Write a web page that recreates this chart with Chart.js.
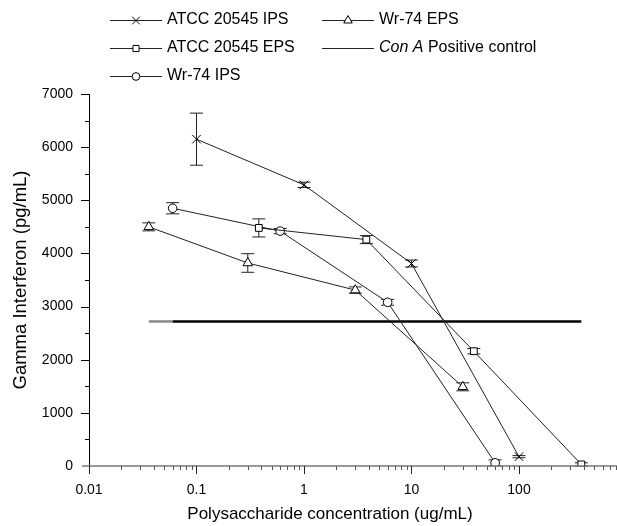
<!DOCTYPE html>
<html><head><meta charset="utf-8">
<script src="https://cdn.jsdelivr.net/npm/chart.js@4.4.0/dist/chart.umd.min.js"></script>
<style>html,body{margin:0;padding:0;background:#fff}#wrap{width:617px;height:526px;position:relative}</style>
</head><body><div id="wrap"><canvas id="c" width="617" height="526"></canvas></div>
<script>
// ---- data ----
const atccIpsX = [0.1, 1, 10, 100];
const atccIpsY = [6150, 5290, 3810, 175];
const atccIpsErr = [490, 50, 65, 20];
const atccEpsX = [0.38, 3.8, 38, 380];
const atccEpsY = [4480, 4260, 2160, 30];
const atccEpsErr = [170, 75, 50, 30];
const wrIpsX = [0.06, 0.6, 6, 60];
const wrIpsY = [4850, 4420, 3080, 60];
const wrIpsErr = [105, 50, 55, 55];
const wrEpsX = [0.036, 0.3, 3, 30];
const wrEpsY = [4500, 3820, 3310, 1490];
const wrEpsErr = [75, 175, 60, 75];
const controlX = [0.036, 0.06, 380];
const controlY = [2720, 2720, 2720];
const xTickLabels = ['0.01', '0.1', '1', '10', '100'];
const yTickLabels = ['0', '1000', '2000', '3000', '4000', '5000', '6000', '7000'];
const seriesNames = ['ATCC 20545 IPS', 'ATCC 20545 EPS', 'Wr-74 IPS', 'Wr-74 EPS'];

const FONT = '"Liberation Sans", Arial, Helvetica, sans-serif';
Chart.defaults.font.family = FONT;
Chart.defaults.color = '#000';

function pts(xs, ys) { return xs.map((x, i) => ({x: x, y: ys[i]})); }

const errs = [atccIpsErr, atccEpsErr, wrIpsErr, wrEpsErr];

function mkSeries(name, xs, ys, style, r) {
  return {
    label: name, data: pts(xs, ys), borderColor: '#222', borderWidth: 1,
    pointStyle: style, pointRadius: r, pointHoverRadius: r,
    pointBackgroundColor: '#fff', pointBorderColor: '#000', pointBorderWidth: 1,
    tension: 0, fill: false
  };
}

const datasets = [
  mkSeries(seriesNames[0], atccIpsX, atccIpsY, 'crossRot', 6),
  mkSeries(seriesNames[1], atccEpsX, atccEpsY, 'rect', 4.8),
  mkSeries(seriesNames[2], wrIpsX, wrIpsY, 'circle', 4.3),
  mkSeries(seriesNames[3], wrEpsX, wrEpsY, 'triangle', 5.5),
  {
    label: 'Con A Positive control', data: pts(controlX, controlY),
    borderColor: '#000', borderWidth: 2.5, pointRadius: 0, tension: 0, fill: false,
    segment: { borderColor: c => c.p0DataIndex === 0 ? '#888' : '#000' }
  }
];

const errorBars = {
  id: 'errorBars',
  beforeDatasetsDraw(chart) {
    const ctx = chart.ctx, xs = chart.scales.x, ys = chart.scales.y;
    ctx.save();
    ctx.strokeStyle = '#222'; ctx.lineWidth = 1;
    for (let d = 0; d < 4; d++) {
      chart.data.datasets[d].data.forEach((p, i) => {
        const e = errs[d][i];
        const px = xs.getPixelForValue(p.x);
        const top = ys.getPixelForValue(p.y + e), bot = ys.getPixelForValue(p.y - e);
        ctx.beginPath();
        ctx.moveTo(px, top); ctx.lineTo(px, bot);
        ctx.moveTo(px - 6.5, top); ctx.lineTo(px + 6.5, top);
        ctx.moveTo(px - 6.5, bot); ctx.lineTo(px + 6.5, bot);
        ctx.stroke();
      });
    }
    ctx.restore();
  }
};

// stretch the plot area to the right edge of the canvas, as in the reference
const stretchRight = {
  id: 'stretchRight',
  afterLayout(chart) {
    const a = chart.chartArea, xs = chart.scales.x;
    const R = chart.width;
    a.right = R; a.width = R - a.left;
    xs.right = R; xs.width = R - xs.left;
    xs.configure();
    xs._labelItems = null; xs._gridLineItems = null;
  }
};

const axisDecor = {
  id: 'axisDecor',
  afterDraw(chart) {
    const ctx = chart.ctx, xs = chart.scales.x, ys = chart.scales.y, a = chart.chartArea;
    ctx.save();
    ctx.strokeStyle = '#777'; ctx.lineWidth = 1.5;
    ctx.beginPath(); ctx.moveTo(a.left - 7, a.bottom); ctx.lineTo(a.right, a.bottom); ctx.stroke();
    ctx.lineWidth = 1;
    xs.ticks.forEach(t => {
      const px = Math.round(xs.getPixelForValue(t.value)) + 0.5;
      const lg = Math.log10(t.value);
      const major = Math.abs(lg - Math.round(lg)) < 1e-9;
      ctx.strokeStyle = major ? '#222' : '#555';
      ctx.beginPath(); ctx.moveTo(px, a.bottom); ctx.lineTo(px, a.bottom + (major ? 8 : 4)); ctx.stroke();
    });
    ctx.strokeStyle = '#000';
    ys.ticks.forEach(t => {
      if (t.value === 0) return;
      const py = Math.round(ys.getPixelForValue(t.value)) + 0.5;
      const major = t.value % 1000 === 0;
      ctx.beginPath(); ctx.moveTo(a.left - (major ? 8 : 4), py); ctx.lineTo(a.left, py); ctx.stroke();
    });
    ctx.fillStyle = '#000';
    ctx.font = '17px ' + FONT;
    ctx.textAlign = 'center'; ctx.textBaseline = 'middle';
    ctx.fillText('Polysaccharide concentration (ug/mL)', 330, 514);
    ctx.restore();
  }
};

const legendPlugin = {
  id: 'customLegend',
  afterDraw(chart) {
    const ctx = chart.ctx;
    const ds = chart.data.datasets;
    const entries = [
      {d: 0, x: 110, y: 20}, {d: 1, x: 110, y: 48}, {d: 2, x: 110, y: 76},
      {d: 3, x: 322, y: 20}, {d: 4, x: 322, y: 48}
    ];
    ctx.save();
    entries.forEach(en => {
      const set = ds[en.d];
      ctx.strokeStyle = '#222'; ctx.lineWidth = 1;
      ctx.beginPath(); ctx.moveTo(en.x, en.y + 0.5); ctx.lineTo(en.x + 52, en.y + 0.5); ctx.stroke();
      if (set.pointRadius > 0) {
        ctx.fillStyle = '#fff'; ctx.strokeStyle = '#000'; ctx.lineWidth = 1;
        Chart.helpers.drawPoint(ctx, {pointStyle: set.pointStyle, radius: set.pointRadius * 0.9, rotation: 0, borderWidth: 1}, en.x + 26, en.y + 0.5);
      }
      ctx.fillStyle = '#000'; ctx.textBaseline = 'middle'; ctx.textAlign = 'left';
      let tx = en.x + 57;
      if (en.d === 4) {
        ctx.font = 'italic 16px ' + FONT;
        ctx.fillText('Con A', tx, en.y);
        tx += ctx.measureText('Con A').width;
        ctx.font = '16px ' + FONT;
        ctx.fillText(' Positive control', tx, en.y);
      } else {
        ctx.font = '16px ' + FONT;
        ctx.fillText(set.label, tx, en.y);
      }
    });
    ctx.restore();
  }
};

new Chart(document.getElementById('c'), {
  type: 'line',
  data: { datasets: datasets },
  options: {
    responsive: false, animation: false, devicePixelRatio: 1,
    layout: { padding: { top: 94, right: 0, left: 0, bottom: 0 } },
    plugins: { legend: { display: false }, tooltip: { enabled: false } },
    scales: {
      x: {
        type: 'logarithmic', min: 0.01, max: 816,
        grid: { display: false, drawTicks: false },
        border: { display: false },
        afterBuildTicks(scale) {
          const t = [];
          for (let e = -2; e <= 2; e++) for (let m = 1; m <= 9; m++) {
            const v = +(m * Math.pow(10, e)).toPrecision(6);
            if (v <= 816) t.push({value: v});
          }
          scale.ticks = t;
        },
        afterFit(scale) { scale.height = 60; scale.paddingRight = 0; scale.paddingLeft = 0; },
        ticks: {
          autoSkip: false, maxRotation: 0, padding: 16, font: { size: 14 },
          callback(v) {
            const lg = Math.log10(v), k = Math.round(lg);
            return Math.abs(lg - k) < 1e-9 ? xTickLabels[k + 2] : '';
          }
        }
      },
      y: {
        type: 'linear', min: 0, max: 7000,
        grid: { display: false, drawTicks: false },
        border: { display: true, color: '#000', width: 1 },
        afterBuildTicks(scale) {
          const t = [];
          for (let v = 0; v <= 7000; v += 500) t.push({value: v});
          scale.ticks = t;
        },
        afterFit(scale) { scale.width = 89; },
        ticks: {
          autoSkip: false, padding: 16, font: { size: 14 },
          callback(v) { return v % 1000 === 0 ? yTickLabels[v / 1000] : ''; }
        },
        title: { display: true, text: 'Gamma Interferon (pg/mL)', font: { size: 18.5 }, padding: { top: 10, bottom: 0 } }
      }
    }
  },
  plugins: [stretchRight, errorBars, axisDecor, legendPlugin]
});
</script></body></html>
